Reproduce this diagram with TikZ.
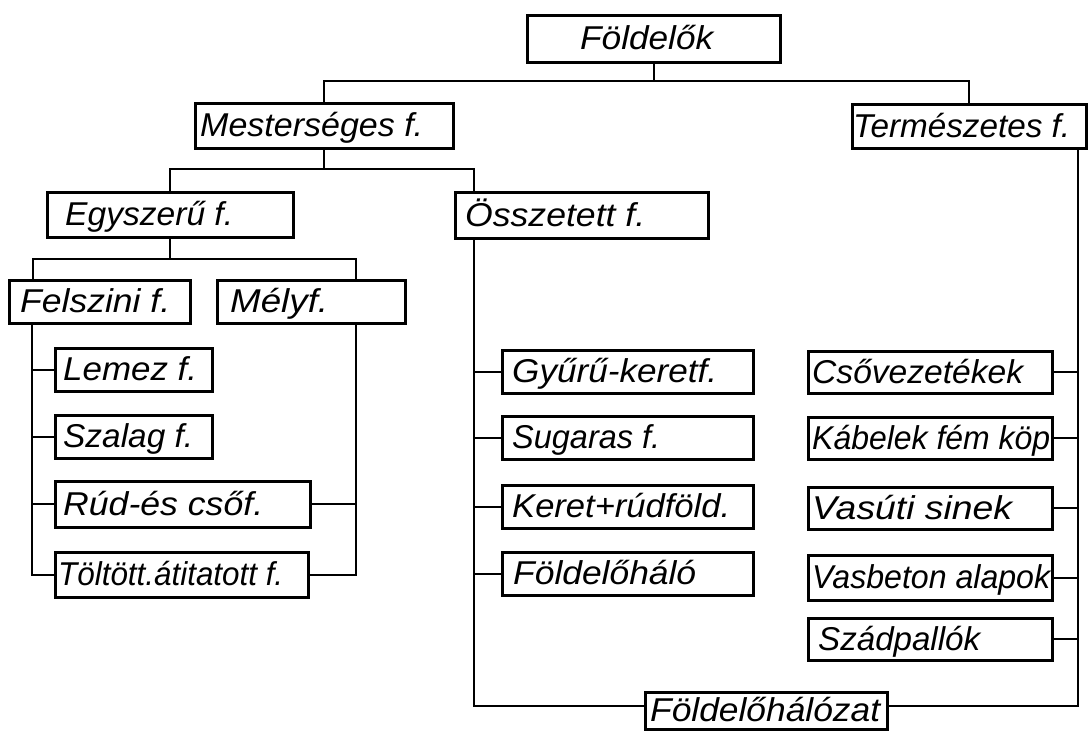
\documentclass[tikz,border=0pt]{standalone}
\usepackage{fontspec}
\setmainfont{Liberation Sans}
\usepackage{graphicx}
\tikzset{
  box/.style={draw=black, line width=3pt, rectangle, inner sep=0pt, fill=white},
  lbl/.style={inner sep=0pt, font=\fontsize{33}{33}\selectfont\itshape},
  conn/.style={draw=black, line width=2pt, line join=miter}
}
% name, x1, y1, x2, y2, text start x, text end x, text
\newcommand\bx[8]{%
  \node[box, minimum width={#4-#2}, minimum height={#5-#3}] (#1) at ({(#2+#4)/2},{(#3+#5)/2}) {};
  \node[lbl, anchor=base west] (#1t) at (#6,{(#3+#5)/2+11}) {\resizebox{\dimexpr#7pt-#6pt\relax}{\height}{#8}};
}
\begin{document}
\begin{tikzpicture}[x=1pt,y=-1pt]
\fill[white] (0,0) rectangle (1088,731);
\useasboundingbox (0,0) rectangle (1088,731);

% top levels
\bx{F}{527}{15}{780}{62}{580}{713}{Földelők}
\bx{M}{195}{103}{453}{148}{200}{423}{Mesterséges f.}
\bx{T}{852}{104}{1086}{148}{853}{1070}{Természetes f.}
\bx{E}{47}{192}{293}{237}{65}{233}{Egyszerű f.}
\bx{O}{455}{192}{708}{238}{465}{645}{Összetett f.}
\bx{Fe}{9}{280}{190}{323}{20}{170}{Felszini f.}
\bx{My}{217}{280}{405}{323}{230}{328}{Mélyf.}

% left column
\bx{Le}{55}{348}{212}{391}{63}{197}{Lemez f.}
\bx{Sz}{55}{415}{212}{458}{63}{193}{Szalag f.}
\bx{Ru}{55}{481}{310}{527}{63}{263}{Rúd-és csőf.}
\bx{To}{55}{552}{308}{597}{58}{283}{Töltött.átitatott f.}

% middle column
\bx{Gy}{502}{350}{753}{393}{512}{717}{Gyűrű-keretf.}
\bx{Su}{502}{416}{753}{459}{512}{660}{Sugaras f.}
\bx{Ke}{502}{485}{753}{528}{512}{730}{Keret+rúdföld.}
\bx{Fh}{502}{552}{753}{595}{513}{696}{Földelőháló}

% right column
\bx{Cs}{808}{351}{1052}{393}{812}{1023}{Csővezetékek}
\bx{Ka}{808}{417}{1052}{459}{812}{1050}{Kábelek fém köp}
\bx{Va}{808}{487}{1052}{529}{812}{1012}{Vasúti sinek}
\bx{Vb}{808}{555}{1052}{600}{812}{1050}{Vasbeton alapok}
\bx{Sp}{808}{618}{1052}{660}{818}{980}{Szádpallók}

% bottom
\bx{Fz}{645}{692}{887}{729}{650}{880}{Földelőhálózat}

% connectors: level 1
\draw[conn] (F.south) -- (F.south |- 0,81);
\draw[conn] (M.north) |- (F.south |- 0,81) -| (T.north);
% level 2
\draw[conn] (M.south) -- (M.south |- 0,169);
\draw[conn] (E.north) |- (M.south |- 0,169) -| ([xshift=20pt]O.north west);
% level 3
\draw[conn] (E.south) -- (E.south |- 0,259);
\draw[conn] ([xshift=25pt]Fe.north west) |- (E.south |- 0,259) -| ([xshift=-51pt]My.north east);

% spines
\coordinate (sF) at ([xshift=24pt]Fe.south west);
\coordinate (sM) at ([xshift=-51pt]My.south east);
\coordinate (sO) at ([xshift=20pt]O.south west);
\coordinate (sT) at ([xshift=-10pt]T.south east);

\draw[conn] (sF) |- (To.west);
\foreach \n in {Le,Sz,Ru} \draw[conn] (\n.west) -- (\n.west -| sF);

\draw[conn] (sM) |- (To.east);
\draw[conn] (Ru.east) -- (Ru.east -| sM);

\draw[conn] (sO) |- ([yshift=5pt]Fz.west);
\foreach \n in {Gy,Su,Ke,Fh} \draw[conn] (\n.west) -- (\n.west -| sO);

\draw[conn] (sT) |- ([yshift=5pt]Fz.east);
\foreach \n in {Cs,Ka,Va,Vb,Sp} \draw[conn] (\n.east) -- (\n.east -| sT);
\end{tikzpicture}
\end{document}
